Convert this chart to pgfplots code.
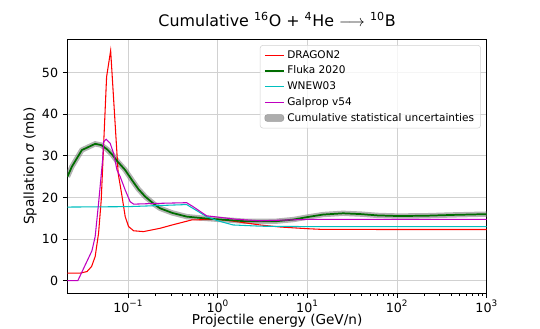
\documentclass[border=0pt]{standalone}
\usepackage{fontspec}
\setmainfont{DejaVu Sans}
\usepackage{pgfplots}
\pgfplotsset{compat=1.18}

\definecolor{mplred}{rgb}{1,0,0}
\definecolor{mplgreen}{rgb}{0,0.5,0}
\definecolor{mplcyan}{rgb}{0,0.75,0.75}
\definecolor{mplmagenta}{rgb}{0.75,0,0.75}
\definecolor{gridgray}{rgb}{0.82,0.82,0.82}

% DRAGON2
\def\dragon{(0.021,1.8) (0.029,1.8) (0.0347,2.2) (0.039,3.4) (0.0428,5.8) (0.0467,11.4)
 (0.050,19.4) (0.0518,27) (0.0574,49) (0.0637,55.3) (0.0773,25.8) (0.085,20.5)
 (0.0926,15.4) (0.101,13.0) (0.115,12.0) (0.148,11.8) (0.227,12.6) (0.31,13.4)
 (0.51,14.6) (1.0,14.75) (1.5,14.3) (2.95,13.4) (5,12.9) (10,12.5) (14,12.35) (100,12.3) (1000,12.3)}
% Fluka 2020
\def\fluka{(0.021,25.0) (0.0235,27.4) (0.0304,31.4) (0.0428,32.9) (0.05,32.6) (0.058,31.6)
 (0.0658,30.4) (0.075,28.8) (0.0926,26.6) (0.11,24.2) (0.13,22.0) (0.155,20.2) (0.2,18.2)
 (0.227,17.4) (0.31,16.3) (0.45,15.4) (0.7,15.0) (1.0,14.75) (2,14.3) (4.5,14.3) (7,14.7)
 (10,15.3) (15,15.9) (25,16.2) (40,16.0) (60,15.7) (100,15.55) (200,15.6) (400,15.8) (1000,16.0)}
% WNEW03
\def\wnew{(0.021,17.7) (0.1,17.8) (0.449,18.3) (0.75,15.4) (1.0,14.4) (1.48,13.4) (3,13.1) (10,13.0) (1000,13.0)}
% Galprop v54
\def\galprop{(0.021,0) (0.0274,0) (0.0394,7.2) (0.0428,10.6) (0.0467,18.6) (0.0518,29)
 (0.0531,33.4) (0.0569,34.0) (0.063,33.0) (0.0687,30.6) (0.075,26.6) (0.0814,25.0)
 (0.0926,21.8) (0.105,19.0) (0.115,18.4) (0.227,18.6) (0.449,18.75) (0.53,17.8) (0.75,15.6)
 (1.62,14.75) (2.94,14.4) (10.7,14.75) (1000,14.75)}

\begin{document}
\begin{tikzpicture}
\useasboundingbox (-50.6pt,-27pt) rectangle (354.4pt,219.75pt);
\begin{axis}[
  at={(0,0)}, anchor=south west,
  scale only axis,
  width=314.4pt, height=190.5pt,
  xmode=log,
  xmin=0.021, xmax=1000,
  ymin=-2.96, ymax=58.1,
  xtick={0.1,1,10,100,1000},
  xticklabels={10\textsuperscript{−1},10\textsuperscript{0},10\textsuperscript{1},10\textsuperscript{2},10\textsuperscript{3}},
  ytick={0,10,20,30,40,50},
  /pgf/number format/assume math mode=true,
  tick align=outside,
  tick pos=left,
  major tick length=3.5pt,
  minor tick length=2pt,
  every tick/.style={black, line width=0.6pt},
  grid=major,
  major grid style={gridgray, line width=0.6pt},
  axis line style={black, line width=0.6pt},
  tick label style={font=\fontsize{9.5}{11}\selectfont},
  xticklabel style={anchor=base, yshift=-10.8pt},
  label style={font=\fontsize{10.2}{12}\selectfont},
  xlabel={Projectile energy (GeV/n)},
  ylabel={Spallation {\itshape σ} (mb)},
  xlabel style={at={(axis description cs:0.5,0)}, anchor=base, yshift=-23.5pt, inner sep=1pt},
  ylabel style={yshift=-3pt},
  title={Cumulative \textsuperscript{16}O + \textsuperscript{4}He $\longrightarrow$ \textsuperscript{10}B},
  title style={font=\fontsize{11.9}{14}\selectfont, yshift=0pt},
  legend style={at={(rel axis cs:0.986,0.976)}, anchor=north east,
    font=\fontsize{7.9}{9.5}\selectfont, draw=gray!35, rounded corners=2pt,
    fill=white, fill opacity=0.8, text opacity=1,
    row sep=0.3pt, inner xsep=2.8pt, inner ysep=1.8pt},
  legend cell align=left,
  legend image code/.code={\draw[draw opacity=1, #1] (0cm,0cm) -- (0.5cm,0cm);},
]
\addplot[gray, opacity=0.6, line width=4pt, forget plot] coordinates {\fluka};
\addplot[mplred, line width=0.8pt] coordinates {\dragon};
\addlegendentry{DRAGON2}
\addplot[mplgreen!85!black, line width=1.3pt] coordinates {\fluka};
\addlegendentry{Fluka 2020}
\addplot[mplcyan, line width=0.8pt] coordinates {\wnew};
\addlegendentry{WNEW03}
\addplot[mplmagenta, line width=0.8pt] coordinates {\galprop};
\addlegendentry{Galprop v54}
\addlegendimage{legend image code/.code={\fill[gray!80] (0cm,-0.09cm) rectangle (0.5cm,0.09cm);}}
\addlegendentry{Cumulative statistical uncertainties}
\end{axis}
\end{tikzpicture}
\end{document}
